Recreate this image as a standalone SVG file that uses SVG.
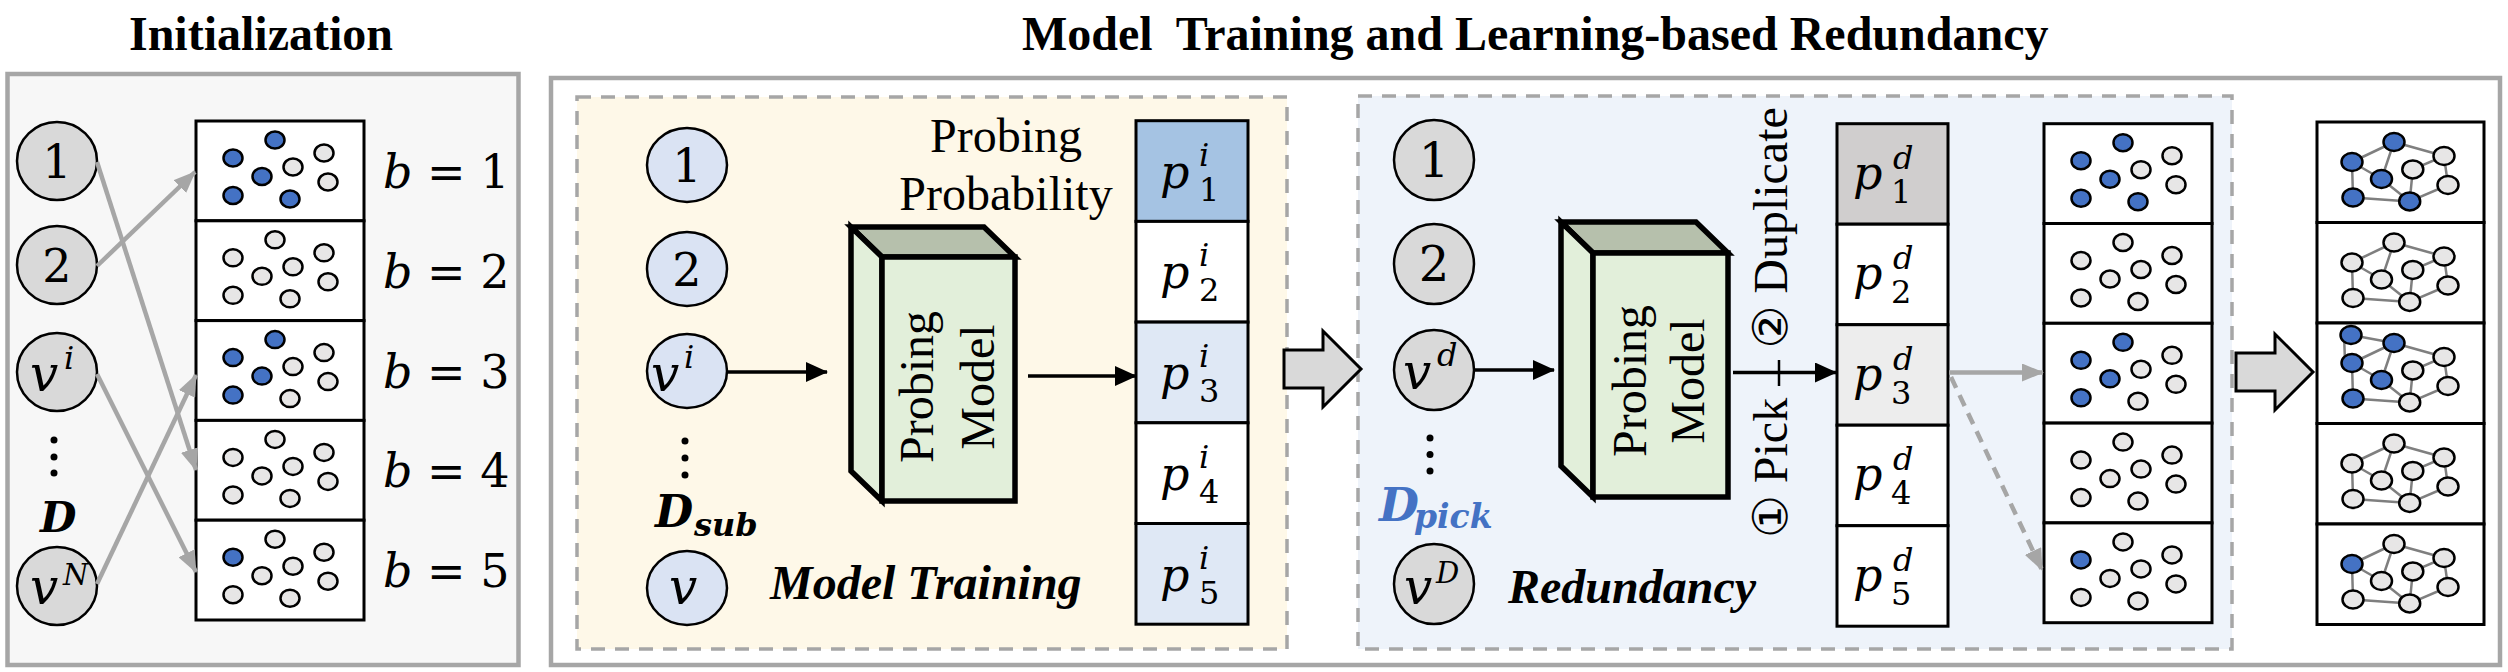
<svg xmlns="http://www.w3.org/2000/svg" xmlns:xlink="http://www.w3.org/1999/xlink" width="2508" height="672" viewBox="0 0 2508 672">
<style>
.ttl{font-family:"Liberation Serif",serif;font-weight:bold;font-size:48px;fill:#000}
.tm{font-family:"Liberation Serif","DejaVu Sans",serif;font-size:48px;fill:#000}
.tbi{font-family:"Liberation Serif",serif;font-weight:bold;font-style:italic;font-size:48px;fill:#000}
.mi{font-family:"DejaVu Serif",serif;font-style:italic;fill:#000}
.mu{font-family:"DejaVu Serif",serif;fill:#000}
.mbi{font-family:"DejaVu Serif",serif;font-style:italic;font-weight:bold}
.bd{fill:#4472c4;stroke:#000;stroke-width:2.5}
.gd{fill:#e7e6e6;stroke:#000;stroke-width:2.5}
.gn{fill:#e7e6e6;stroke:#000;stroke-width:2.5}
.bn{fill:#4472c4;stroke:#000;stroke-width:2.5}
.ge{fill:none;stroke:#7f7f7f;stroke-width:2.5}
.bin{fill:#fff;stroke:#000;stroke-width:3}
.cg{fill:#d9d9d9;stroke:#000;stroke-width:2.5}
.cb{fill:#dae3f3;stroke:#000;stroke-width:2.5}
.gl{fill:none;stroke:#a6a6a6;stroke-width:4.5}
.bl{fill:none;stroke:#000;stroke-width:3.5}
.dot{fill:#000}
.pc{stroke:#000;stroke-width:3}
.mf{fill:#e2efda;stroke:#000;stroke-width:5.5;stroke-linejoin:miter}
.mt{fill:#b6c0ac;stroke:#000;stroke-width:5.5;stroke-linejoin:miter}
.big{fill:#d9d9d9;stroke:#000;stroke-width:3}
</style>
<defs>
<marker id="ab" markerUnits="userSpaceOnUse" viewBox="0 0 22 20" markerWidth="22" markerHeight="20" refX="21" refY="10" orient="auto"><path d="M0,0 L22,10 L0,20 z" fill="#000"/></marker>
<marker id="ag" markerUnits="userSpaceOnUse" viewBox="0 0 22 18" markerWidth="22" markerHeight="18" refX="21" refY="9" orient="auto"><path d="M0,0 L22,9 L0,18 z" fill="#a6a6a6"/></marker>
<g id="d1"><ellipse class="bd" cx="79" cy="19" rx="9.5" ry="8.5"/><ellipse class="bd" cx="37" cy="37" rx="9.5" ry="8.5"/><ellipse class="bd" cx="66" cy="55.5" rx="9.5" ry="8.5"/><ellipse class="bd" cx="37" cy="74.5" rx="9.5" ry="8.5"/><ellipse class="bd" cx="94" cy="78" rx="9.5" ry="8.5"/><ellipse class="gd" cx="97" cy="46" rx="9.5" ry="8.5"/><ellipse class="gd" cx="128" cy="32" rx="9.5" ry="8.5"/><ellipse class="gd" cx="132" cy="61" rx="9.5" ry="8.5"/></g>
<g id="d2"><ellipse class="gd" cx="79" cy="19" rx="9.5" ry="8.5"/><ellipse class="gd" cx="37" cy="37" rx="9.5" ry="8.5"/><ellipse class="gd" cx="66" cy="55.5" rx="9.5" ry="8.5"/><ellipse class="gd" cx="37" cy="74.5" rx="9.5" ry="8.5"/><ellipse class="gd" cx="94" cy="78" rx="9.5" ry="8.5"/><ellipse class="gd" cx="97" cy="46" rx="9.5" ry="8.5"/><ellipse class="gd" cx="128" cy="32" rx="9.5" ry="8.5"/><ellipse class="gd" cx="132" cy="61" rx="9.5" ry="8.5"/></g>
<g id="d3"><ellipse class="bd" cx="79" cy="19" rx="9.5" ry="8.5"/><ellipse class="bd" cx="37" cy="37" rx="9.5" ry="8.5"/><ellipse class="bd" cx="66" cy="55.5" rx="9.5" ry="8.5"/><ellipse class="bd" cx="37" cy="74.5" rx="9.5" ry="8.5"/><ellipse class="gd" cx="94" cy="78" rx="9.5" ry="8.5"/><ellipse class="gd" cx="97" cy="46" rx="9.5" ry="8.5"/><ellipse class="gd" cx="128" cy="32" rx="9.5" ry="8.5"/><ellipse class="gd" cx="132" cy="61" rx="9.5" ry="8.5"/></g>
<g id="d5"><ellipse class="gd" cx="79" cy="19" rx="9.5" ry="8.5"/><ellipse class="bd" cx="37" cy="37" rx="9.5" ry="8.5"/><ellipse class="gd" cx="66" cy="55.5" rx="9.5" ry="8.5"/><ellipse class="gd" cx="37" cy="74.5" rx="9.5" ry="8.5"/><ellipse class="gd" cx="94" cy="78" rx="9.5" ry="8.5"/><ellipse class="gd" cx="97" cy="46" rx="9.5" ry="8.5"/><ellipse class="gd" cx="128" cy="32" rx="9.5" ry="8.5"/><ellipse class="gd" cx="132" cy="61" rx="9.5" ry="8.5"/></g>
<path id="ge" class="ge" d="M35,40 L77,20 M77,20 L127,34 M77,20 L64.5,57 M35,40 L64.5,57 M35,40 L36,75.5 M36,75.5 L92.7,79.4 M64.5,57 L92.7,79.4 M95.8,47.4 L92.7,79.4 M95.8,47.4 L127,34 M127,34 L131,63 M131,63 L92.7,79.4"/>
<g id="g1"><use href="#ge"/><ellipse class="bn" cx="35" cy="40" rx="10.5" ry="9"/><ellipse class="bn" cx="77" cy="20" rx="10.5" ry="9"/><ellipse class="bn" cx="64.5" cy="57" rx="10.5" ry="9"/><ellipse class="bn" cx="36" cy="75.5" rx="10.5" ry="9"/><ellipse class="bn" cx="92.7" cy="79.4" rx="10.5" ry="9"/><ellipse class="gn" cx="95.8" cy="47.4" rx="10.5" ry="9"/><ellipse class="gn" cx="127" cy="34" rx="10.5" ry="9"/><ellipse class="gn" cx="131" cy="63" rx="10.5" ry="9"/></g>
<g id="g2"><use href="#ge"/><ellipse class="gn" cx="35" cy="40" rx="10.5" ry="9"/><ellipse class="gn" cx="77" cy="20" rx="10.5" ry="9"/><ellipse class="gn" cx="64.5" cy="57" rx="10.5" ry="9"/><ellipse class="gn" cx="36" cy="75.5" rx="10.5" ry="9"/><ellipse class="gn" cx="92.7" cy="79.4" rx="10.5" ry="9"/><ellipse class="gn" cx="95.8" cy="47.4" rx="10.5" ry="9"/><ellipse class="gn" cx="127" cy="34" rx="10.5" ry="9"/><ellipse class="gn" cx="131" cy="63" rx="10.5" ry="9"/></g>
<g id="g3"><use href="#ge"/><path class="ge" d="M34,12 L77,20 M27,12 L28,38"/><ellipse class="bn" cx="34" cy="12" rx="10.5" ry="9"/><ellipse class="bn" cx="35" cy="40" rx="10.5" ry="9"/><ellipse class="bn" cx="77" cy="20" rx="10.5" ry="9"/><ellipse class="bn" cx="64.5" cy="57" rx="10.5" ry="9"/><ellipse class="bn" cx="36" cy="75.5" rx="10.5" ry="9"/><ellipse class="gn" cx="92.7" cy="79.4" rx="10.5" ry="9"/><ellipse class="gn" cx="95.8" cy="47.4" rx="10.5" ry="9"/><ellipse class="gn" cx="127" cy="34" rx="10.5" ry="9"/><ellipse class="gn" cx="131" cy="63" rx="10.5" ry="9"/></g>
<g id="g5"><use href="#ge"/><ellipse class="bn" cx="35" cy="40" rx="10.5" ry="9"/><ellipse class="gn" cx="77" cy="20" rx="10.5" ry="9"/><ellipse class="gn" cx="64.5" cy="57" rx="10.5" ry="9"/><ellipse class="gn" cx="36" cy="75.5" rx="10.5" ry="9"/><ellipse class="gn" cx="92.7" cy="79.4" rx="10.5" ry="9"/><ellipse class="gn" cx="95.8" cy="47.4" rx="10.5" ry="9"/><ellipse class="gn" cx="127" cy="34" rx="10.5" ry="9"/><ellipse class="gn" cx="131" cy="63" rx="10.5" ry="9"/></g>
</defs>

<rect width="2508" height="672" fill="#fff"/>

<!-- Titles -->
<text class="ttl" x="261" y="50" text-anchor="middle">Initialization</text>
<text class="ttl" x="1022" y="50" xml:space="preserve" style="white-space:pre">Model  Training and Learning-based Redundancy</text>

<!-- Panels -->
<g id="panel-init"><rect x="7.5" y="74" width="511" height="591" fill="#f7f7f7" stroke="#a6a6a6" stroke-width="4.5"/></g>
<g id="panel-main"><rect x="551" y="78" width="1949" height="587" fill="#fff" stroke="#a6a6a6" stroke-width="4.5"/></g>
<g id="panel-training"><rect x="577" y="97" width="710" height="552" fill="#fef8e8" stroke="#a6a6a6" stroke-width="3.5" stroke-dasharray="14 10"/></g>
<g id="panel-redundancy"><rect x="1358" y="96" width="874" height="553" fill="#eef3fa" stroke="#a6a6a6" stroke-width="3.5" stroke-dasharray="14 10"/></g>

<!-- Initialization nodes -->
<g id="init-n1"><ellipse class="cg" cx="57" cy="161" rx="40" ry="39"/><text class="mu" x="57" y="178" font-size="46" text-anchor="middle">1</text></g>
<g id="init-n2"><ellipse class="cg" cx="57" cy="265" rx="40" ry="39"/><text class="mu" x="57" y="282" font-size="46" text-anchor="middle">2</text></g>
<g id="init-vi"><ellipse class="cg" cx="57" cy="372" rx="40" ry="39"/><text class="mi" x="30" y="391" font-size="50">v</text><text class="mi" x="64" y="369" font-size="32">i</text></g>
<g id="init-dots"><circle class="dot" cx="54" cy="440" r="3.5"/><circle class="dot" cx="54" cy="457" r="3.5"/><circle class="dot" cx="54" cy="473" r="3.5"/></g>
<g id="init-D"><text class="mbi" x="40" y="532" font-size="42" fill="#000">D</text></g>
<g id="init-vN"><ellipse class="cg" cx="57" cy="586" rx="40" ry="39"/><text class="mi" x="30" y="604" font-size="50">v</text><text class="mi" x="63" y="585" font-size="29">N</text></g>

<!-- Initialization bins -->
<g id="init-bins">
<rect class="bin" x="196" y="121" width="168" height="99.8"/><use href="#d1" x="196" y="121"/>
<rect class="bin" x="196" y="220.8" width="168" height="99.8"/><use href="#d2" x="196" y="220.8"/>
<rect class="bin" x="196" y="320.6" width="168" height="99.8"/><use href="#d3" x="196" y="320.6"/>
<rect class="bin" x="196" y="420.4" width="168" height="99.8"/><use href="#d2" x="196" y="420.4"/>
<rect class="bin" x="196" y="520.2" width="168" height="99.8"/><use href="#d5" x="196" y="520.2"/>
</g>
<g id="init-labels" font-size="46">
<text class="mu" x="383" y="188"><tspan class="mi">b</tspan> = 1</text>
<text class="mu" x="383" y="287.8"><tspan class="mi">b</tspan> = 2</text>
<text class="mu" x="383" y="387.6"><tspan class="mi">b</tspan> = 3</text>
<text class="mu" x="383" y="487.4"><tspan class="mi">b</tspan> = 4</text>
<text class="mu" x="383" y="587.2"><tspan class="mi">b</tspan> = 5</text>
</g>

<!-- Model training nodes -->
<g id="tr-n1"><ellipse class="cb" cx="687" cy="165" rx="40" ry="37"/><text class="mu" x="687" y="182" font-size="46" text-anchor="middle">1</text></g>
<g id="tr-n2"><ellipse class="cb" cx="687" cy="269" rx="40" ry="37"/><text class="mu" x="687" y="286" font-size="46" text-anchor="middle">2</text></g>
<g id="tr-vi"><ellipse class="cb" cx="687" cy="371" rx="40" ry="37"/><text class="mi" x="651" y="391" font-size="50">v</text><text class="mi" x="684" y="368" font-size="32">i</text></g>
<g id="tr-dots"><circle class="dot" cx="685" cy="441" r="3.5"/><circle class="dot" cx="685" cy="458" r="3.5"/><circle class="dot" cx="685" cy="475" r="3.5"/></g>
<g id="tr-Dsub"><text class="mbi" x="655" y="527" font-size="44" fill="#000">D<tspan x="694" y="536" font-size="32">sub</tspan></text></g>
<g id="tr-v"><ellipse class="cb" cx="687" cy="588" rx="40" ry="37"/><text class="mi" x="683" y="604" font-size="50" text-anchor="middle">v</text></g>

<g id="tr-model">
<polygon class="mt" points="851,227 984,227 1015,257 882,257"/>
<polygon class="mf" points="851,227 882,257 882,501 851,471"/>
<rect class="mf" x="882" y="257" width="133" height="244"/>
<text class="tm" transform="translate(933,387) rotate(-90)" text-anchor="middle">Probing</text>
<text class="tm" transform="translate(994,387) rotate(-90)" text-anchor="middle">Model</text>
</g>
<g id="tr-prob-label"><text class="tm" x="1006" y="152" text-anchor="middle">Probing</text><text class="tm" x="1006" y="210" text-anchor="middle">Probability</text></g>

<g id="tr-probs">
<rect class="pc" x="1136" y="120.7" width="112" height="100.7" fill="#a5c3e3"/>
<rect class="pc" x="1136" y="221.4" width="112" height="100.7" fill="#ffffff"/>
<rect class="pc" x="1136" y="322.1" width="112" height="100.7" fill="#dfe8f5"/>
<rect class="pc" x="1136" y="422.8" width="112" height="100.7" fill="#ffffff"/>
<rect class="pc" x="1136" y="523.5" width="112" height="100.7" fill="#dfe8f5"/>
<text class="mi" x="1160" y="187.7" font-size="46">p</text><text class="mi" x="1199" y="165.7" font-size="32">i</text><text class="mu" x="1199" y="200.7" font-size="32">1</text>
<text class="mi" x="1160" y="288.4" font-size="46">p</text><text class="mi" x="1199" y="266.4" font-size="32">i</text><text class="mu" x="1199" y="301.4" font-size="32">2</text>
<text class="mi" x="1160" y="389.1" font-size="46">p</text><text class="mi" x="1199" y="367.1" font-size="32">i</text><text class="mu" x="1199" y="402.1" font-size="32">3</text>
<text class="mi" x="1160" y="489.8" font-size="46">p</text><text class="mi" x="1199" y="467.8" font-size="32">i</text><text class="mu" x="1199" y="502.8" font-size="32">4</text>
<text class="mi" x="1160" y="590.5" font-size="46">p</text><text class="mi" x="1199" y="568.5" font-size="32">i</text><text class="mu" x="1199" y="603.5" font-size="32">5</text>
</g>
<g id="tr-caption"><text class="tbi" x="770" y="599">Model Training</text></g>

<!-- Redundancy nodes -->
<g id="rd-n1"><ellipse class="cg" cx="1434" cy="160" rx="40" ry="40"/><text class="mu" x="1434" y="177" font-size="48" text-anchor="middle">1</text></g>
<g id="rd-n2"><ellipse class="cg" cx="1434" cy="264" rx="40" ry="40"/><text class="mu" x="1434" y="281" font-size="48" text-anchor="middle">2</text></g>
<g id="rd-vd"><ellipse class="cg" cx="1434" cy="370" rx="40" ry="40"/><text class="mi" x="1403" y="389" font-size="50">v</text><text class="mi" x="1437" y="366" font-size="32">d</text></g>
<g id="rd-dots"><circle class="dot" cx="1430" cy="438" r="3.5"/><circle class="dot" cx="1430" cy="454.5" r="3.5"/><circle class="dot" cx="1430" cy="471" r="3.5"/></g>
<g id="rd-Dpick"><text class="mbi" x="1379" y="521" font-size="46" fill="#4472c4">D<tspan x="1414" y="528" font-size="33">pick</tspan></text></g>
<g id="rd-vD"><ellipse class="cg" cx="1434" cy="584" rx="40" ry="40"/><text class="mi" x="1404" y="604" font-size="50">v</text><text class="mi" x="1436" y="583" font-size="29">D</text></g>

<g id="rd-model">
<polygon class="mt" points="1561,222 1696,222 1728,253 1593,253"/>
<polygon class="mf" points="1561,222 1593,253 1593,497 1561,466"/>
<rect class="mf" x="1593" y="253" width="135" height="244"/>
<text class="tm" transform="translate(1646,381) rotate(-90)" text-anchor="middle">Probing</text>
<text class="tm" transform="translate(1704,381) rotate(-90)" text-anchor="middle">Model</text>
</g>
<g id="rd-steps">
<text class="tm" transform="translate(1787,468) rotate(-90)" text-anchor="middle">① Pick</text>
<text class="tm" transform="translate(1787,228) rotate(-90)" text-anchor="middle">② Duplicate</text>
<line x1="1779" y1="360" x2="1779" y2="386" stroke="#000" stroke-width="2.5"/>
</g>

<g id="rd-probs">
<rect class="pc" x="1837" y="123.7" width="111" height="100.5" fill="#d0cece"/>
<rect class="pc" x="1837" y="224.2" width="111" height="100.5" fill="#ffffff"/>
<rect class="pc" x="1837" y="324.7" width="111" height="100.5" fill="#ededed"/>
<rect class="pc" x="1837" y="425.2" width="111" height="100.5" fill="#ffffff"/>
<rect class="pc" x="1837" y="525.7" width="111" height="100.5" fill="#ffffff"/>
<text class="mi" x="1853" y="188.7" font-size="46">p</text><text class="mi" x="1893" y="168.7" font-size="32">d</text><text class="mu" x="1891" y="202.7" font-size="32">1</text>
<text class="mi" x="1853" y="289.2" font-size="46">p</text><text class="mi" x="1893" y="269.2" font-size="32">d</text><text class="mu" x="1891" y="303.2" font-size="32">2</text>
<text class="mi" x="1853" y="389.7" font-size="46">p</text><text class="mi" x="1893" y="369.7" font-size="32">d</text><text class="mu" x="1891" y="403.7" font-size="32">3</text>
<text class="mi" x="1853" y="490.2" font-size="46">p</text><text class="mi" x="1893" y="470.2" font-size="32">d</text><text class="mu" x="1891" y="504.2" font-size="32">4</text>
<text class="mi" x="1853" y="590.7" font-size="46">p</text><text class="mi" x="1893" y="570.7" font-size="32">d</text><text class="mu" x="1891" y="604.7" font-size="32">5</text>
</g>
<g id="rd-caption"><text class="tbi" x="1508" y="603">Redundancy</text></g>

<g id="rd-bins">
<rect class="bin" x="2044" y="123.7" width="168" height="99.8"/><use href="#d1" x="2044" y="123.7"/>
<rect class="bin" x="2044" y="223.5" width="168" height="99.8"/><use href="#d2" x="2044" y="223.5"/>
<rect class="bin" x="2044" y="323.3" width="168" height="99.8"/><use href="#d3" x="2044" y="323.3"/>
<rect class="bin" x="2044" y="423.1" width="168" height="99.8"/><use href="#d2" x="2044" y="423.1"/>
<rect class="bin" x="2044" y="522.9" width="168" height="99.8"/><use href="#d5" x="2044" y="522.9"/>
</g>

<g id="graph-bins">
<rect class="bin" x="2317" y="122" width="167" height="100.5"/><use href="#g1" x="2317" y="122"/>
<rect class="bin" x="2317" y="222.5" width="167" height="100.5"/><use href="#g2" x="2317" y="222.5"/>
<rect class="bin" x="2317" y="323" width="167" height="100.5"/><use href="#g3" x="2317" y="323"/>
<rect class="bin" x="2317" y="423.5" width="167" height="100.5"/><use href="#g2" x="2317" y="423.5"/>
<rect class="bin" x="2317" y="524" width="167" height="100.5"/><use href="#g5" x="2317" y="524"/>
</g>

<!-- Connectors -->
<g id="connectors">
<path class="gl" d="M97,162 L196,470" marker-end="url(#ag)"/>
<path class="gl" d="M97,266 L195,172" marker-end="url(#ag)"/>
<path class="gl" d="M97,374 L196,572" marker-end="url(#ag)"/>
<path class="gl" d="M97,584 L196,375" marker-end="url(#ag)"/>
<path class="bl" d="M727,372 L827,372" marker-end="url(#ab)"/>
<path class="bl" d="M1028,376 L1136,376" marker-end="url(#ab)"/>
<path class="bl" d="M1474,370 L1554,370" marker-end="url(#ab)"/>
<path class="bl" d="M1733,372.5 L1836,372.5" marker-end="url(#ab)"/>
<path class="gl" d="M1949,372.5 L2043,372.5" stroke-width="4" marker-end="url(#ag)"/>
<path class="gl" d="M1951,377 L2042,570" stroke-width="4" stroke-dasharray="12 8" marker-end="url(#ag)"/>
<polygon class="big" points="1284,350 1323,350 1323,331 1361,369 1323,407 1323,388 1284,388"/>
<polygon class="big" points="2236,353 2275,353 2275,334 2313,372 2275,410 2275,391 2236,391"/>
</g>
</svg>
